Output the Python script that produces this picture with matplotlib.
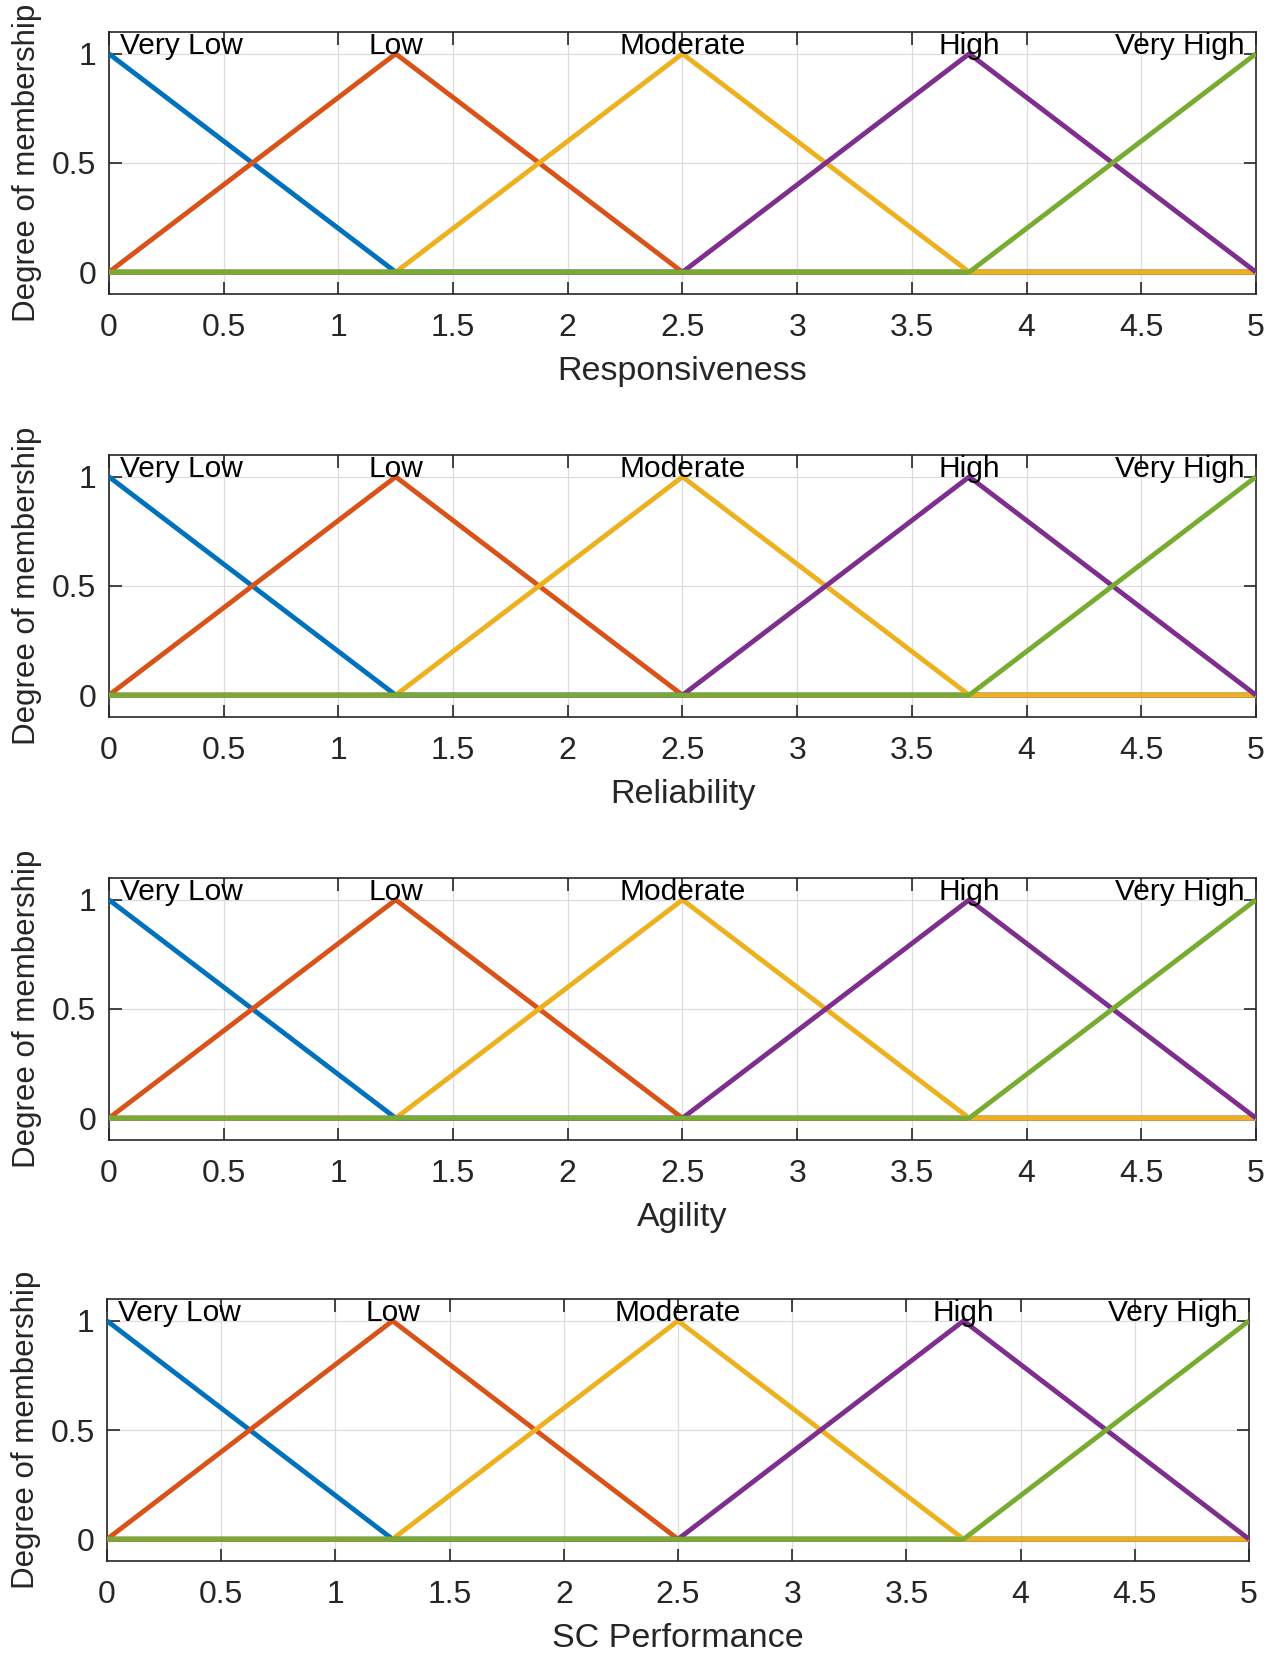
import matplotlib.pyplot as plt
import numpy as np

plt.rcParams['font.family'] = ['Liberation Sans', 'DejaVu Sans']

# input / output variables of the fuzzy system
var_names = ["Responsiveness", "Reliability", "Agility", "SC Performance"]

# membership functions (vertices of the triangles over the 0..5 range)
mf_names = ["Very Low", "Low", "Moderate", "High", "Very High"]
mf_x = [
    [0, 1.25, 5],
    [0, 1.25, 2.5, 5],
    [0, 1.25, 2.5, 3.75, 5],
    [0, 2.5, 3.75, 5],
    [0, 3.75, 5],
]
mf_y = [
    [1, 0, 0],
    [0, 1, 0, 0],
    [0, 0, 1, 0, 0],
    [0, 0, 1, 0],
    [0, 0, 1],
]
mf_peak = [0, 1.25, 2.5, 3.75, 5]

colors = ["#0072BD", "#D95319", "#EDB120", "#7E2F8E", "#77AC30"]
dark = "#262626"

fig = plt.figure(figsize=(12.82, 16.55), dpi=100)

# axes boxes [left, bottom, width, height] in figure fractions
boxes = [
    [0.0850, 0.8224, 0.8947, 0.1583],
    [0.0850, 0.5668, 0.8947, 0.1583],
    [0.0850, 0.3112, 0.8947, 0.1583],
    [0.0835, 0.0568, 0.8908, 0.1583],
]

for name, box in zip(var_names, boxes):
    ax = fig.add_axes(box)
    for xs, ys, c in zip(mf_x, mf_y, colors):
        ax.plot(xs, ys, color=c, lw=3.5, solid_capstyle='butt', zorder=3)
    for i, (lab, px) in enumerate(zip(mf_names, mf_peak)):
        if i == 0:
            ax.text(0.05, 1.0, lab, ha='left', va='baseline', fontsize=21.5, color='black', zorder=4)
        elif i == len(mf_names) - 1:
            ax.text(4.95, 1.0, lab, ha='right', va='baseline', fontsize=21.5, color='black', zorder=4)
        else:
            ax.text(px, 1.0, lab, ha='center', va='baseline', fontsize=21.5, color='black', zorder=4)

    ax.set_xlim(0, 5)
    ax.set_ylim(-0.1, 1.1)
    ax.set_xticks(np.arange(0, 5.01, 0.5))
    ax.set_xticklabels(["0", "0.5", "1", "1.5", "2", "2.5", "3", "3.5", "4", "4.5", "5"])
    ax.set_yticks([0, 0.5, 1])
    ax.set_yticklabels(["0", "0.5", "1"])
    ax.grid(True, color='#dcdcdc', lw=0.9, zorder=0)
    ax.tick_params(direction='in', top=True, right=True, length=9, width=1.2,
                   labelsize=23, colors=dark)
    ax.tick_params(axis='x', pad=14)
    ax.tick_params(axis='y', pad=9)
    for s in ax.spines.values():
        s.set_color(dark)
        s.set_linewidth(1.2)
    ax.set_xlabel(name, fontsize=24.5, color=dark, labelpad=9)
    ax.set_ylabel("Degree of membership", fontsize=22.5, color=dark, labelpad=7)

fig.savefig("out.png", dpi=100)
